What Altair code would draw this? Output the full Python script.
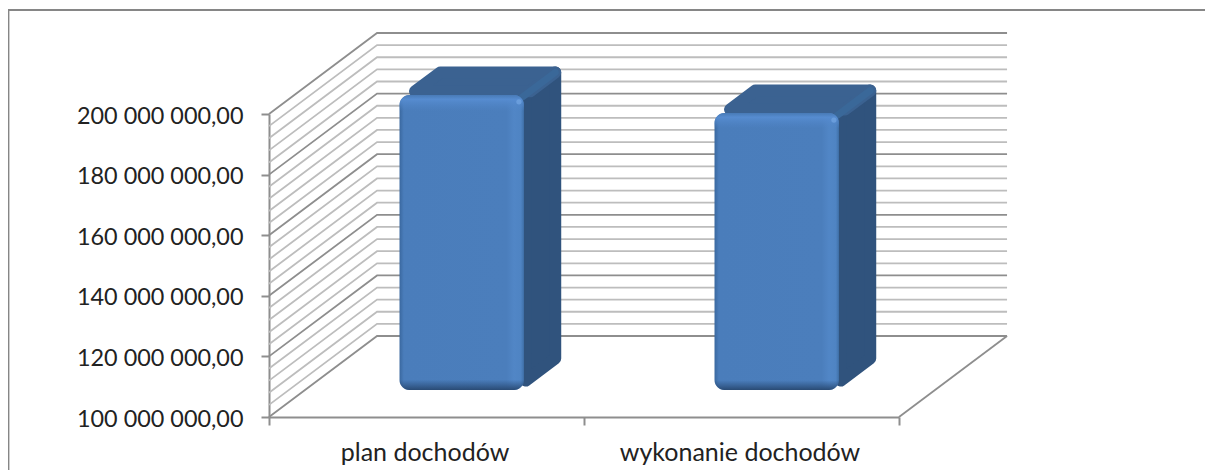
import altair as alt
import pandas as pd

categories = ["plan dochodów", "wykonanie dochodów"]
values = [197400000, 191400000]
y_ticks = [100000000, 120000000, 140000000, 160000000, 180000000, 200000000]
grid_step = 4000000
y_min, y_max = 100000000, 200000000

# oblique projection of the depth axis, in data units per full depth
DX = 0.343      # category units
DY = 26730000   # value units
BAR_L, BAR_R = 0.30, 0.695
D1, D2 = 1 / 3, 2 / 3
IN_X, IN_Y = 0.015, 1500000  # inset of bar faces, restored by a round stroke

W, H = 630, 303
PAD = {"left": 261, "top": 106, "right": 306, "bottom": 53}
GRID = "#bdbdbd"
MAJOR = "#8e8e8e"
FONT = "Lato"

def px(x, d):
    return x + d * DX

def py(v, d):
    return v + d * DY

y_axis = alt.Axis(
    values=y_ticks, title=None, grid=False, tickSize=8, tickColor=MAJOR, tickWidth=2,
    domainColor=MAJOR, domainWidth=2, labelFont=FONT, labelFontSize=23.4, labelColor="#222222",
    labelPadding=18, labelLimit=400, labelOffset=2,
    labelExpr="replace(replace(format(datum.value, ',.2f'), regexp(',', 'g'), ' '), '.', ',')",
)
xs = alt.Scale(domain=[0, 2], nice=False, zero=False)
ys = alt.Scale(domain=[y_min, y_max], nice=False, zero=False)
X = lambda f: alt.X(f, type="quantitative", scale=xs, axis=None)
Y = lambda f: alt.Y(f, type="quantitative", scale=ys, axis=y_axis)

# walls
rows = []
v = y_min
while v <= y_max:
    for i, (x, d) in enumerate([(0, 0), (0, 1), (2, 1)]):
        rows.append({"v": v, "o": i, "x": px(x, d), "y": py(v, d),
                     "major": v in y_ticks})
    v += grid_step
walls = pd.DataFrame(rows)
floor = pd.DataFrame([
    {"o": 0, "x": px(2, 1), "y": py(y_min, 1)},
    {"o": 1, "x": px(2, 0), "y": py(y_min, 0)},
])


def wall_layer(df, color, width):
    return alt.Chart(df).mark_line(color=color, strokeWidth=width, clip=False).encode(
        x=X("x"), y=Y("y"), detail="v:N", order="o:Q")


cat_axis = alt.Axis(
    title=None, labelAngle=0, tickBand="extent", tickSize=8, tickColor=MAJOR, tickWidth=2,
    domainColor=MAJOR, domainWidth=2, labelFont=FONT, labelFontSize=25, labelColor="#222222",
    labelPadding=15, labelLimit=400, labelOffset=-2,
)
cat_layer = alt.Chart(pd.DataFrame({"c": categories})).mark_rule(opacity=0).encode(
    x=alt.X("c:N", sort=categories, axis=cat_axis,
            scale=alt.Scale(paddingInner=0, paddingOuter=0)))

# bars
front, side, top, ridge, glint = [], [], [], [], []
for i, (c, val) in enumerate(zip(categories, values)):
    l, r = i + BAR_L, i + BAR_R
    front.append({"c": c, "x": px(l, D1), "x2": px(r, D1),
                  "y": py(val, D1), "y2": py(y_min, D1)})
    for d in (D1 + 0.06, D2):
        side.append({"c": c, "x": px(r, d) - IN_X,
                     "y": py(val, d) - IN_Y, "y2": py(y_min, d) + IN_Y})
    for d in (D1 + 0.1, D2):
        top.append({"c": c, "y": py(val, d) - IN_Y,
                    "x": px(l, d) + IN_X, "x2": px(r, d) - IN_X})
    for o, d in enumerate((D1 + 0.03, D2)):
        ridge.append({"c": c, "o": o, "x": px(r, d) - IN_X, "y": py(val, d) - IN_Y})
    glint.append({"x": px(r, D1) - 0.016, "y": py(val, D1) - 2300000})
front, side, top, ridge, glint = map(pd.DataFrame, (front, side, top, ridge, glint))

side_layer = alt.Chart(side).mark_area(
    color="#30537d", stroke="#30537d", strokeWidth=12, strokeJoin="round", clip=False
).encode(x=X("x"), y=Y("y"), y2="y2:Q", detail="c:N")

top_layer = alt.Chart(top).mark_area(
    orient="horizontal", color="#3b6291", stroke="#3b6291", strokeWidth=12,
    strokeJoin="round", clip=False
).encode(y=Y("y"), x=X("x"), x2="x2:Q", detail="c:N")

ridge_layer = alt.Chart(ridge).mark_line(
    color="#3a6899", strokeWidth=7, strokeCap="round", clip=False
).encode(x=X("x"), y=Y("y"), detail="c:N", order="o:Q")

face_fill = {
    "gradient": "linear", "x1": 0, "y1": 0, "x2": 1, "y2": 0,
    "stops": [
        {"offset": 0, "color": "#3a689f"},
        {"offset": 0.035, "color": "#4a7dbb"},
        {"offset": 0.86, "color": "#4b7ebc"},
        {"offset": 0.92, "color": "#5186c6"},
        {"offset": 0.975, "color": "#4f84c3"},
        {"offset": 1, "color": "#3f70a8"},
    ],
}
face_layer = alt.Chart(front).mark_bar(fill=face_fill, cornerRadius=10, clip=False).encode(
    x=X("x"), x2="x2:Q", y=Y("y"), y2="y2:Q")

bevel_fill = {
    "gradient": "linear", "x1": 0, "y1": 0, "x2": 0, "y2": 1,
    "stops": [
        {"offset": 0, "color": "rgba(72,122,182,1)"},
        {"offset": 0.015, "color": "rgba(86,140,208,1)"},
        {"offset": 0.055, "color": "rgba(80,133,200,0)"},
        {"offset": 0.965, "color": "rgba(40,75,120,0)"},
        {"offset": 1, "color": "rgba(40,72,112,0.95)"},
    ],
}
bevel_layer = alt.Chart(front).mark_bar(fill=bevel_fill, cornerRadius=10, clip=False).encode(
    x=X("x"), x2="x2:Q", y=Y("y"), y2="y2:Q")

glint_layer = alt.Chart(glint).mark_circle(color="#6fa3e0", size=28, opacity=0.8, clip=False).encode(
    x=X("x"), y=Y("y"))

# outer frame of the picture
frame_l = alt.Chart(pd.DataFrame({"a": [0]})).mark_rule(color="#868686", strokeWidth=1.6).encode(
    x=alt.value(-260.4), y=alt.value(-104), y2=alt.value(356))
frame_t = alt.Chart(pd.DataFrame({"a": [0]})).mark_rule(color="#868686", strokeWidth=2.2).encode(
    x=alt.value(-261), x2=alt.value(936), y=alt.value(-104))

chart = alt.layer(
    frame_l, frame_t,
    cat_layer,
    wall_layer(walls[~walls.major], GRID, 1.8),
    wall_layer(walls[walls.major], MAJOR, 1.8),
    alt.Chart(floor).mark_line(color=MAJOR, strokeWidth=1.8, clip=False).encode(
        x=X("x"), y=Y("y"), order="o:Q"),
    side_layer, top_layer, ridge_layer, face_layer, bevel_layer, glint_layer,
).resolve_scale(x="independent").properties(
    width=W, height=H, padding=PAD, autosize=alt.AutoSizeParams(type="none"), background="white"
).configure_view(stroke=None)

chart.save("out.html", embed_options={"renderer": "svg", "actions": False})
